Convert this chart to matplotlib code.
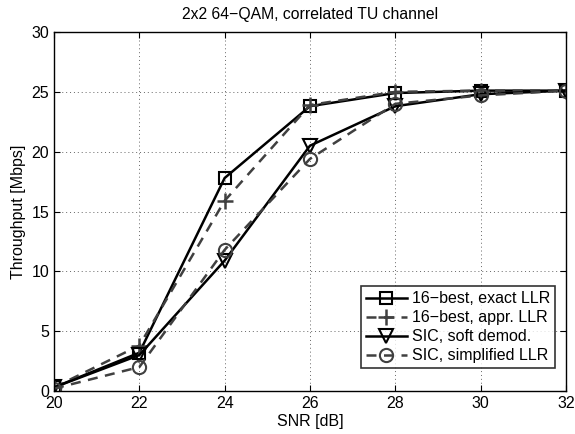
import matplotlib
matplotlib.use("Agg")
import matplotlib.pyplot as plt

snr = [20, 22, 24, 26, 28, 30, 32]
best16_exact = [0.3, 3.2, 17.8, 23.8, 24.9, 25.1, 25.1]
best16_appr = [0.3, 3.8, 15.9, 23.9, 25.0, 25.1, 25.1]
sic_soft = [0.3, 3.0, 10.9, 20.5, 23.8, 24.8, 25.1]
sic_simpl = [0.2, 2.0, 11.8, 19.4, 24.0, 24.7, 25.1]

xticks = [20, 22, 24, 26, 28, 30, 32]
yticks = [0, 5, 10, 15, 20, 25, 30]

plt.rcParams['font.family'] = ['Liberation Sans', 'DejaVu Sans']

fig = plt.figure(figsize=(5.75, 4.34), dpi=100)
ax = fig.add_axes([54/575, 1 - 391/434, (566-54)/575, (391-32)/434])

gray = '#404040'
ax.plot(snr, best16_exact, '-', color='black', lw=1.8, marker='s', ms=8.5,
        mfc='none', mec='black', mew=1.5, label='16\u2212best, exact LLR')
ax.plot(snr, best16_appr, '--', color=gray, lw=1.8, marker='+', ms=11,
        mec=gray, mew=1.8, dashes=(4, 3), label='16\u2212best, appr. LLR')
ax.plot(snr, sic_soft, '-', color='black', lw=1.8, marker='v', ms=10,
        mfc='none', mec='black', mew=1.5, label='SIC, soft demod.')
ax.plot(snr, sic_simpl, '--', color=gray, lw=1.8, marker='o', ms=9.5,
        mfc='none', mec=gray, mew=1.5, dashes=(4, 3), label='SIC, simplified LLR')

ax.set_xlim(20, 32)
ax.set_ylim(0, 30)
ax.set_xticks(xticks)
ax.set_yticks(yticks)
ax.tick_params(direction='in', length=4, labelsize=11.5, top=True, right=True)
ax.grid(True, linestyle=(0, (1, 3)), color='#666666', lw=0.7)
for s in ax.spines.values():
    s.set_linewidth(1.0)

ax.set_xlabel('SNR [dB]', fontsize=11.5, labelpad=2.5)
ax.set_ylabel('Throughput [Mbps]', fontsize=11.5, labelpad=4)
ax.set_title('2x2 64\u2212QAM, correlated TU channel', fontsize=11.3, pad=9)

leg = ax.legend(loc='lower right', bbox_to_anchor=(0.9785, 0.064), fontsize=11.5,
                frameon=True, fancybox=False, edgecolor='black',
                handlelength=2.6, handletextpad=0.3, borderpad=0.3,
                labelspacing=0.25, borderaxespad=0)
leg.get_frame().set_linewidth(1.2)

fig.savefig('out.png', dpi=100)
